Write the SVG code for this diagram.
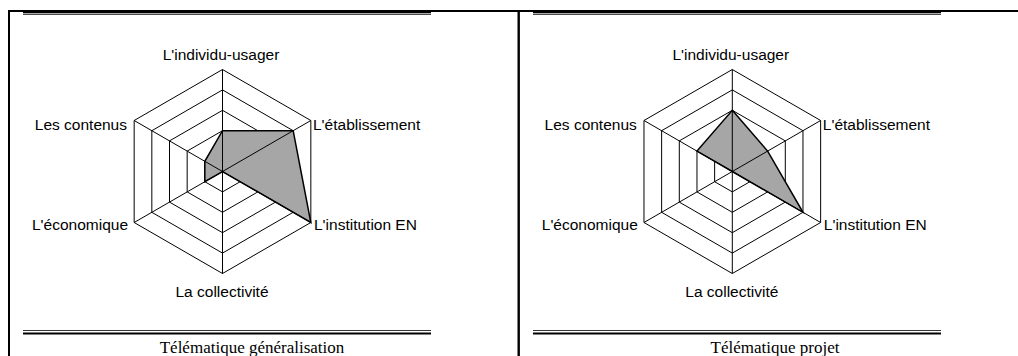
<svg xmlns="http://www.w3.org/2000/svg" xmlns:xlink="http://www.w3.org/1999/xlink" width="1018" height="356" viewBox="0 0 1018 356">
<style>
.ring{fill:none;stroke:#000;stroke-width:1}
.spoke{stroke:#000;stroke-width:1}
.data{fill:#a6a6a6;stroke:#000;stroke-width:1.5;stroke-linejoin:miter}
.lbl{font-family:"Liberation Sans",Arial,sans-serif;font-size:15.5px;fill:#000}
.cap{font-family:"Liberation Serif","Times New Roman",serif;font-size:17px;fill:#000}
.rule{stroke:#000}
</style>
<defs>
<g id="rings">
<polygon class="ring" points="0,-102 88.33,-51 88.33,51 0,102 -88.33,51 -88.33,-51"/>
<polygon class="ring" points="0,-81.6 70.67,-40.8 70.67,40.8 0,81.6 -70.67,40.8 -70.67,-40.8"/>
<polygon class="ring" points="0,-61.2 53,-30.6 53,30.6 0,61.2 -53,30.6 -53,-30.6"/>
<polygon class="ring" points="0,-40.8 35.33,-20.4 35.33,20.4 0,40.8 -35.33,20.4 -35.33,-20.4"/>
<polygon class="ring" points="0,-20.4 17.67,-10.2 17.67,10.2 0,20.4 -17.67,10.2 -17.67,-10.2"/>
</g>
<g id="spokes">
<line class="spoke" x1="0" y1="0" x2="0" y2="-102"/>
<line class="spoke" x1="0" y1="0" x2="88.33" y2="-51"/>
<line class="spoke" x1="0" y1="0" x2="88.33" y2="51"/>
<line class="spoke" x1="0" y1="0" x2="0" y2="102"/>
<line class="spoke" x1="0" y1="0" x2="-88.33" y2="51"/>
<line class="spoke" x1="0" y1="0" x2="-88.33" y2="-51"/>
</g>
<g id="labels">
<text class="lbl" x="-1.5" y="-112" text-anchor="middle">L'individu-usager</text>
<text class="lbl" x="-95.5" y="-41.5" text-anchor="end">Les contenus</text>
<text class="lbl" x="90.5" y="-41.5">L'établissement</text>
<text class="lbl" x="-94.5" y="58.5" text-anchor="end">L'économique</text>
<text class="lbl" x="91.5" y="58.5">L'institution EN</text>
<text class="lbl" x="-0.5" y="125" text-anchor="middle">La collectivité</text>
</g>
</defs>
<g id="frame">
<line class="rule" x1="8" y1="11" x2="1018" y2="11" stroke-width="2"/>
<line class="rule" x1="9" y1="10" x2="9" y2="356" stroke-width="2"/>
<line class="rule" x1="518.7" y1="10" x2="518.7" y2="356" stroke-width="2.4"/>
</g>
<g id="chart-generalisation">
<line class="rule" x1="23" y1="12.6" x2="431" y2="12.6" stroke-width="1.2"/>
<line class="rule" x1="23" y1="14.4" x2="431" y2="14.4" stroke-width="0.8"/>
<g transform="translate(222.5,171.5)">
<use xlink:href="#rings"/>
<polygon class="data" points="0,-40.8 70.67,-40.8 88.33,51 0,0 -17.67,10.2 -17.67,-10.2"/>
<use xlink:href="#spokes"/>
<use xlink:href="#labels"/>
</g>
<line class="rule" x1="23" y1="330.5" x2="431" y2="330.5" stroke-width="0.8"/>
<line class="rule" x1="23" y1="333.5" x2="431" y2="333.5" stroke-width="2"/>
<text class="cap" x="252" y="353" text-anchor="middle">Télématique généralisation</text>
</g>
<g id="chart-projet">
<line class="rule" x1="533" y1="12.6" x2="941" y2="12.6" stroke-width="1.2"/>
<line class="rule" x1="533" y1="14.4" x2="941" y2="14.4" stroke-width="0.8"/>
<g transform="translate(732.3,171.5)">
<use xlink:href="#rings"/>
<polygon class="data" points="0,-61.2 35.33,-20.4 70.67,40.8 0,0 0,0 -35.33,-20.4"/>
<use xlink:href="#spokes"/>
<use xlink:href="#labels"/>
</g>
<line class="rule" x1="533" y1="330.5" x2="941" y2="330.5" stroke-width="0.8"/>
<line class="rule" x1="533" y1="333.5" x2="941" y2="333.5" stroke-width="2"/>
<text class="cap" x="775" y="353" text-anchor="middle">Télématique projet</text>
</g>
</svg>
